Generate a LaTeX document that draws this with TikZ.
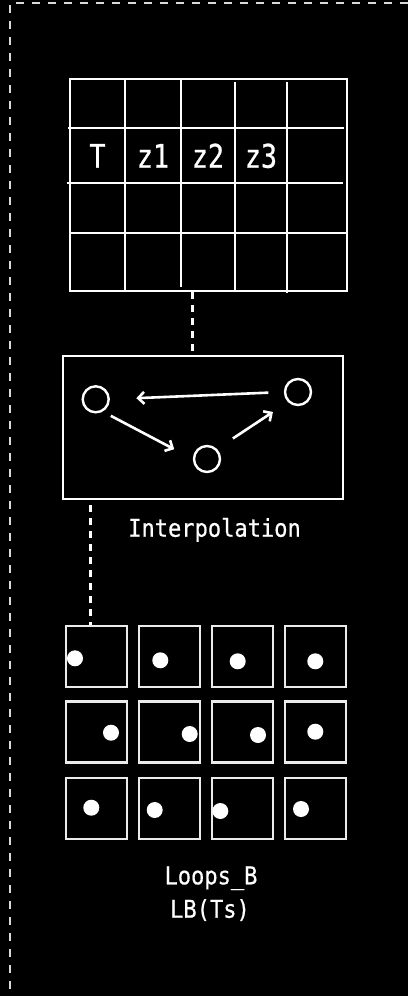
\documentclass[tikz,border=0pt]{standalone}
\usepackage{fontspec}
\newfontfamily\tabfont[FakeStretch=0.82, FakeBold=0.8]{DejaVu Sans Mono}
\newfontfamily\labfont[FakeStretch=0.9, FakeBold=0.6]{DejaVu Sans Mono}
\usetikzlibrary{positioning, calc, arrows.meta}

\begin{document}
\begin{tikzpicture}[x=1pt, y=-1pt,
        gridline/.style={draw=white, line width=2.6pt},
        tabframe/.style={draw=white, line width=2.6pt, minimum width=277pt, minimum height=212pt, inner sep=0pt},
        celltext/.style={text=white, anchor=base, inner sep=0pt, font=\tabfont\fontsize{32.5}{34}\selectfont},
        interpbox/.style={draw=white, line width=2.2pt, minimum width=280pt, minimum height=143pt, inner sep=0pt},
        ring/.style={draw=white, circle, line width=2.4pt, minimum size=26pt, inner sep=0pt},
        flow/.style={draw=white, line width=2.6pt, -{Straight Barb[length=6pt, width=12pt]}},
        link/.style={draw=white, line width=3pt, dash pattern=on 7pt off 6pt},
        labeltext/.style={text=white, anchor=base, inner sep=0pt, font=\labfont\fontsize{24.5}{30}\selectfont},
        cellbox/.style={draw=white!92!black, line width=2.4pt, minimum size=61pt, inner sep=0pt},
        dot/.style={fill=white, circle, minimum size=16pt, inner sep=0pt},
        border/.style={draw=white!85!black, line width=1.6pt, dash pattern=on 8pt off 8pt}
    ]

    % Page
    \fill[black] (0,0) rectangle (408,996);
    \useasboundingbox (0,0) rectangle (408,996);
    \draw[border] (408,3) -- (10,3) -- (10,996);

    % Table
    \node[tabframe] (table) at (208.5,185) {};
    \foreach \y/\a/\b in {128/68/344, 183/67/343, 233/70/347} {
        \draw[gridline] (\a,\y) -- (\b,\y);
    }
    \foreach \x/\a/\b in {125/79/291, 181/80/287, 235/82/291, 287/82/293} {
        \draw[gridline] (\x,\a) -- (\x,\b);
    }
    \foreach \t/\x in {T/97.5, z1/153, z2/208, z3/261} {
        \node[celltext] (cell\t) at (\x,167.7) {\t};
    }

    % Interpolation
    \node[interpbox] (interp) at (203,427.5) {};
    \node[ring] (lc) at (95.7,399.3) {};
    \node[ring] (rc) at (298,392) {};
    \node[ring] (bc) at (207,459) {};
    \draw[flow, shorten <=15.5pt, shorten >=26.5pt] (rc.west) -- (lc.east);
    \draw[flow, shorten <=9pt, shorten >=21pt] (lc.-60) -- (bc.west);
    \draw[flow, shorten <=19pt, shorten >=18pt] (bc.north east) -- (rc.south west);
    \node[labeltext] (interplabel) at (214.5,536.7) {Interpolation};

    \draw[link] ([xshift=-16.5pt]table.south) -- ([xshift=-16.5pt]table.south |- interp.north);

    % Loops
    \foreach \r/\y in {1/656.7, 2/732, 3/808.3} {
        \foreach \c/\x in {1/96.5, 2/169.3, 3/242.2, 4/315.5} {
            \node[cellbox] (box\r\c) at (\x,\y) {};
        }
    }
    \foreach \n/\dx/\dy in {11/-21.5/1.6, 12/-9/3.6, 13/-4.5/4.6, 14/-0.2/4.6,
                            21/14.5/0.7, 22/20.4/2, 23/15.8/3, 24/-0.2/-0.3,
                            31/-5.2/-0.6, 32/-14.6/1.7, 33/-21.9/2.7, 34/-14.5/0.7} {
        \node[dot] (dot\n) at ($(box\n.center)+(\dx,\dy)$) {};
    }

    \draw[link] ([xshift=29pt, yshift=-5pt]interp.south west) -- ([xshift=29pt]interp.south west |- box11.north);

    \node[labeltext] (loopsname) at (211,884.3) {Loops\_B};
    \node[labeltext] (loopsfunc) at (210,917.7) {LB(Ts)};

\end{tikzpicture}
\end{document}
